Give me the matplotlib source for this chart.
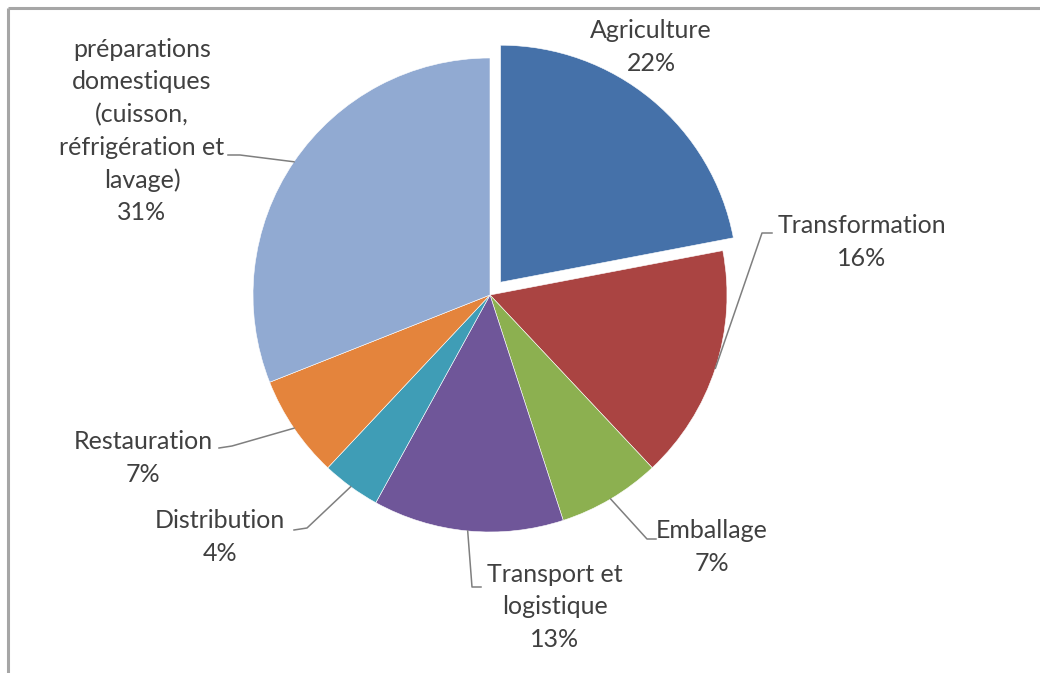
import numpy as np
import matplotlib
matplotlib.use("Agg")
import matplotlib.pyplot as plt

# données (%)
categories = ["Agriculture", "Transformation", "Emballage", "Transport et\nlogistique",
              "Distribution", "Restauration",
              "préparations\ndomestiques\n(cuisson,\nréfrigération et\nlavage)"]
valeurs = [22, 16, 7, 13, 4, 7, 31]
couleurs = ["#4571A9", "#AA4442", "#8CB050", "#6F5699", "#3F9DB6", "#E4843C", "#91AAD2"]
eclate = [0.07, 0, 0, 0, 0, 0, 0]   # fraction du rayon

W, H = 1040, 673
cx, cy, R = 490, H - 295, 237

# position des étiquettes (pixels depuis le haut) et coude des traits de rappel
pos_txt = [(651, 47), (862, 242), (712, 547), (555, 607), (220, 537), (143, 458), (142, 131)]
coudes = [None, [(762, 233), (772, 233)], [(647, 539), (656, 539)], [(472, 587), (481, 587)],
          [(307, 528), (294, 530)], [(232, 446), (219, 448)], [(240, 155), (228, 155)]]

fig = plt.figure(figsize=(W / 100, H / 100), dpi=100)
ax = fig.add_axes([0, 0, 1, 1])
plt.rcParams['font.family'] = ['Lato', 'DejaVu Sans']

wedges, _ = ax.pie(valeurs, colors=couleurs, startangle=90, counterclock=False,
                   explode=[e * R for e in eclate], radius=R, center=(cx, cy),
                   wedgeprops=dict(edgecolor="white", linewidth=0.4))
ax.set_xlim(0, W)
ax.set_ylim(0, H)
ax.set_aspect("equal")
ax.set_axis_off()

# cadre gris (haut et gauche)
ax.plot([8, W], [H - 8, H - 8], color="#A6A6A6", lw=2.2, solid_capstyle="butt")
ax.plot([8, 8], [H - 8, 0], color="#A6A6A6", lw=2.2, solid_capstyle="butt")

total = float(sum(valeurs))
cum = np.cumsum([0] + valeurs)
for i, (cat, v) in enumerate(zip(categories, valeurs)):
    tx, ty = pos_txt[i]
    ax.text(tx, H - ty, f"{cat}\n{v}%", ha="center", va="center", fontsize=18,
            color="#404040", linespacing=1.5)
    if coudes[i] is None:
        continue
    mid = (cum[i] + cum[i + 1]) / 2 / total * 2 * np.pi
    ax_ = cx + R * np.sin(mid)
    ay_ = cy + R * np.cos(mid)
    xs = [ax_] + [p[0] for p in coudes[i]]
    ys = [ay_] + [H - p[1] for p in coudes[i]]
    ax.plot(xs, ys, color="#7F7F7F", lw=1.1)

fig.savefig("out.png", dpi=100)
